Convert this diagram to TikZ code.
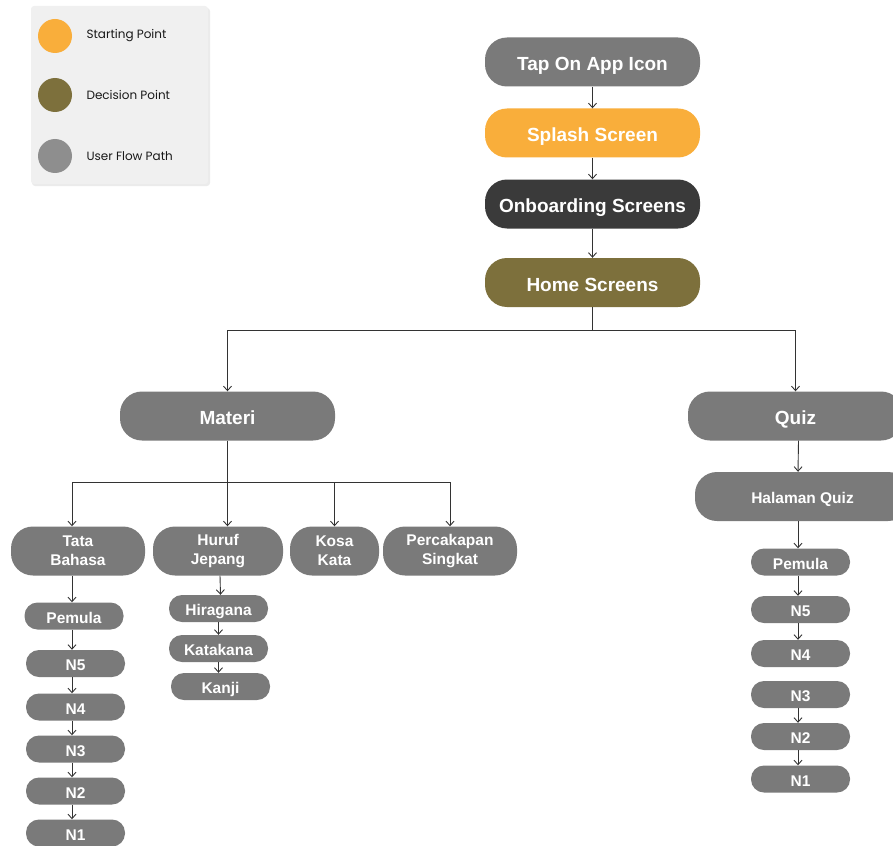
\documentclass[tikz,border=0pt]{standalone}
\usepackage{fontspec}
\setmainfont{Liberation Sans}
\newfontfamily\legfont{Poppins}
\usetikzlibrary{arrows.meta}
\definecolor{gr}{HTML}{7A7A7A}
\definecolor{orng}{HTML}{F9AE3B}
\definecolor{dk}{HTML}{3A3A3A}
\definecolor{olive}{HTML}{7D703C}
\definecolor{legbg}{HTML}{F0F0F0}
\definecolor{ln}{HTML}{333333}
\tikzset{
  pill/.style n args={3}{rectangle, rounded corners=#3, minimum width=#1, minimum height=#2, inner sep=0pt, text=white, font=\bfseries\fontsize{19}{21}\selectfont, align=center, draw=none},
  big/.style={pill={215}{49}{22}, fill=gr, text height=17.4pt, text depth=0pt},
  mid/.style={pill={134}{49}{22}, fill=gr, font=\bfseries\fontsize{15.5}{19}\selectfont},
  small/.style={pill={99}{27}{13}, fill=gr, text height=14.6pt, text depth=0pt, font=\bfseries\fontsize{15.5}{17}\selectfont},
  conn/.style={draw=ln, line width=0.9pt},
  arr/.style={conn, -{Straight Barb[length=4.5pt,width=8pt]}},
  legtxt/.style={anchor=west, font=\legfont\fontsize{12}{14}\selectfont, text=black!90},
}
\begin{document}
\begin{tikzpicture}[x=1pt,y=-1pt]
\useasboundingbox (0,0) rectangle (893,845);
\clip (0,0) rectangle (893,845);
% legend
\fill[black!8, rounded corners=3pt] (32,8) rectangle (210,186);
\node[fill=legbg, rounded corners=3pt, minimum width=177, minimum height=178, inner sep=0pt] (leg) at (119.5,95) {};
\node[circle, fill=orng, minimum size=34, inner sep=0pt] (c1) at (55,36) {};
\node[circle, fill=olive, minimum size=34, inner sep=0pt] (c2) at (55,95) {};
\node[circle, fill=gr!85, minimum size=34, inner sep=0pt] (c3) at (55,156) {};
\node[legtxt] (l1) at (83,36) {Starting Point};
\node[legtxt] (l2) at (83,95) {Decision Point};
\node[legtxt] (l3) at (83,156) {User Flow Path};
% main column
\node[big] (tap) at (592.5,62) {Tap On App Icon};
\node[big, fill=orng] (spl) at (592.5,133) {Splash Screen};
\node[big, fill=dk] (onb) at (592.5,204) {Onboarding Screens};
\node[big, fill=olive] (home) at (592.5,282.5) {Home Screens};
\draw[arr] (tap) -- (spl);
\draw[arr] (spl) -- (onb);
\draw[arr] (onb) -- (home);
% branches
\node[big] (mat) at (227.5,416) {Materi};
\node[big] (quiz) at (795.5,416) {Quiz};
\coordinate (hj) at (592.5,330);
\draw[conn] (home.south) -- (hj);
\draw[arr] (hj) -| (mat.north);
\draw[arr] (hj) -| (quiz.north);
% materi children
\node[mid] (tata) at (78,551) {Tata\\Bahasa};
\node[mid, minimum width=130] (huruf) at (218,551) {Huruf\\Jepang};
\node[mid, minimum width=89] (kosa) at (334.5,551) {Kosa\\Kata};
\node[mid] (perc) at (450,551) {Percakapan\\Singkat};
\coordinate (mj) at (227.5,482);
\draw[conn] (mat.south) -- (mj);
\draw[arr] (mj) -| ([xshift=-6pt]tata.north);
\draw[arr] (mj) -- (mat.south |- huruf.north);
\draw[arr] (mj) -| (kosa.north);
\draw[arr] (mj) -| (perc.north);
% tata bahasa chain
\node[small] (tp) at (74,616) {Pemula};
\node[small] (t5) at (75.5,663.5) {N5};
\node[small] (t4) at (75.5,707) {N4};
\node[small] (t3) at (75.5,749) {N3};
\node[small] (t2) at (75.5,791) {N2};
\node[small] (t1) at (75.5,833) {N1};
\draw[arr] ([xshift=-6pt]tata.south) -- ([xshift=-2pt]tp.north);
\draw[arr] ([xshift=-2pt]tp.south) -- ([xshift=-3.5pt]t5.north);
\draw[arr] ([xshift=-3.5pt]t5.south) -- ([xshift=-3.5pt]t4.north);
\draw[arr] ([xshift=-3.5pt]t4.south) -- ([xshift=-3.5pt]t3.north);
\draw[arr] ([xshift=-3.5pt]t3.south) -- ([xshift=-3.5pt]t2.north);
\draw[arr] ([xshift=-3.5pt]t2.south) -- ([xshift=-3.5pt]t1.north);
% huruf chain
\node[small] (hh) at (218.5,608.5) {Hiragana};
\node[small] (hk) at (218.5,648.5) {Katakana};
\node[small] (hkj) at (220.5,686.5) {Kanji};
\draw[arr] ([xshift=2pt]huruf.south) -- ([xshift=2pt]hh.north);
\draw[arr] (hh.south) -- (hk.north);
\draw[arr] (hk.south) -- ([xshift=-2pt]hkj.north);
% quiz chain
\node[big, text height=14.6pt, font=\bfseries\fontsize{15.5}{17}\selectfont] (hq) at (802.5,496.5) {Halaman Quiz};
\node[small] (qp) at (800.5,562) {Pemula};
\node[small] (q5) at (800.5,609.5) {N5};
\node[small] (q4) at (800.5,653.5) {N4};
\node[small] (q3) at (800.5,694.5) {N3};
\node[small] (q2) at (800.5,736.5) {N2};
\node[small] (q1) at (800.5,779) {N1};
\draw[arr] ([xshift=3pt]quiz.south) -- ([xshift=-4.5pt]hq.north);
\draw[arr] ([xshift=-4.5pt]hq.south) -- ([xshift=-2.5pt]qp.north);
\draw[arr] ([xshift=-2.5pt]qp.south) -- ([xshift=-2.5pt]q5.north);
\draw[arr] ([xshift=-2.5pt]q5.south) -- ([xshift=-2.5pt]q4.north);
\draw[arr] ([xshift=-2.5pt]q3.south) -- ([xshift=-2.5pt]q2.north);
\draw[arr] ([xshift=-2.5pt]q2.south) -- ([xshift=-2.5pt]q1.north);
\end{tikzpicture}
\end{document}
